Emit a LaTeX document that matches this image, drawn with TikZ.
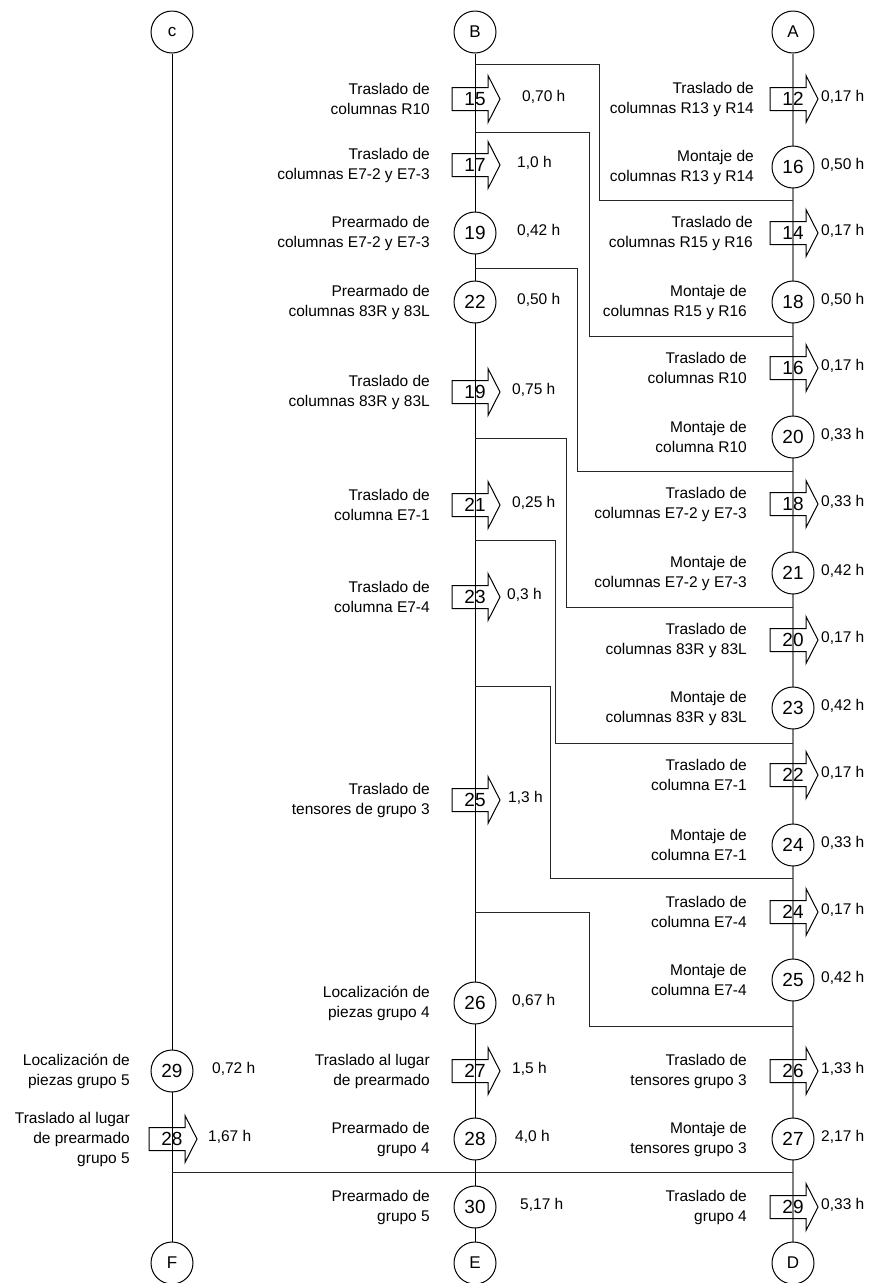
\documentclass[tikz,border=0pt]{standalone}
\usepackage{fontspec}
\setmainfont{Liberation Sans}
\usetikzlibrary{backgrounds}
\tikzset{
  colline/.style={line width=1pt, black},
  collineA/.style={line width=1.3pt, black!50},
  conn/.style={line width=1pt, black!85},
  circ/.style={circle, draw, line width=1pt, fill=white, minimum size=42pt, inner sep=0pt, font=\fontsize{19}{19}\selectfont},
  letter/.style={circ, font=\fontsize{17}{17}\selectfont},
  arrowshape/.style={draw, line width=1pt},
  num/.style={inner sep=0pt, font=\fontsize{19}{19}\selectfont},
  lbl/.style={anchor=east, align=right, inner sep=0pt, font=\fontsize{15.5}{20}\selectfont},
  tm/.style={anchor=west, inner sep=0pt, font=\fontsize{15.5}{20}\selectfont},
}
% #1 name, #2 x, #3 y, #4 number
\newcommand\ArrowAct[4]{%
  \draw[arrowshape] (#2-23,#3-11.5) -- (#2+13,#3-11.5) -- (#2+13,#3-23.5) -- (#2+25,#3)
     -- (#2+13,#3+23.5) -- (#2+13,#3+11.5) -- (#2-23,#3+11.5) -- cycle;
  \node[num] (#1) at (#2,#3) {#4};}
\newcommand\CircAct[4]{\node[circ] (#1) at (#2,#3) {#4};}
\begin{document}
\begin{tikzpicture}[x=1pt,y=-1pt]
\useasboundingbox (0,0) rectangle (879,1283);

% end circles
\node[letter] (tc) at (172,32) {c};
\node[letter] (tb) at (475,32) {B};
\node[letter] (ta) at (793,32) {A};
\node[letter] (bf) at (172,1263) {F};
\node[letter] (be) at (475,1263) {E};
\node[letter] (bd) at (793,1263) {D};

% ---- column B ----
\ArrowAct{b15}{475}{99}{15}
\node[lbl] (b15l) at (430,99) {Traslado de\\columnas R10};
\node[tm] (b15t) at (522,97) {0,70 h};

\ArrowAct{b17}{475}{165}{17}
\node[lbl] (b17l) at (430,165) {Traslado de\\columnas E7-2 y E7-3};
\node[tm] (b17t) at (517,163) {1,0 h};

\CircAct{b19}{475}{233}{19}
\node[lbl] (b19l) at (430,233) {Prearmado de\\columnas E7-2 y E7-3};
\node[tm] (b19t) at (517,231) {0,42 h};

\CircAct{b22}{475}{302}{22}
\node[lbl] (b22l) at (430,302) {Prearmado de\\columnas 83R y 83L};
\node[tm] (b22t) at (517,300) {0,50 h};

\ArrowAct{b19a}{475}{392}{19}
\node[lbl] (b19al) at (430,392) {Traslado de\\columnas 83R y 83L};
\node[tm] (b19at) at (512,390) {0,75 h};

\ArrowAct{b21}{475}{505}{21}
\node[lbl] (b21l) at (430,505) {Traslado de\\columna E7-1};
\node[tm] (b21t) at (512,503) {0,25 h};

\ArrowAct{b23}{475}{597}{23}
\node[lbl] (b23l) at (430,597) {Traslado de\\columna E7-4};
\node[tm] (b23t) at (507,595) {0,3 h};

\ArrowAct{b25}{475}{800}{25}
\node[lbl] (b25l) at (430,800) {Traslado de\\tensores de grupo 3};
\node[tm] (b25t) at (508,798) {1,3 h};

\CircAct{b26}{475}{1003}{26}
\node[lbl] (b26l) at (430,1003) {Localización de\\piezas grupo 4};
\node[tm] (b26t) at (512,1001) {0,67 h};

\ArrowAct{b27}{475}{1071}{27}
\node[lbl] (b27l) at (430,1071) {Traslado al lugar\\de prearmado};
\node[tm] (b27t) at (512,1069) {1,5 h};

\CircAct{b28}{475}{1139}{28}
\node[lbl] (b28l) at (430,1139) {Prearmado de\\grupo 4};
\node[tm] (b28t) at (515,1137) {4,0 h};

\CircAct{b30}{475}{1207}{30}
\node[lbl] (b30l) at (430,1207) {Prearmado de\\grupo 5};
\node[tm] (b30t) at (520,1205) {5,17 h};

% ---- column A ----
\ArrowAct{a12}{793}{99}{12}
\node[lbl] (a12l) at (754,99) {Traslado de\\columnas R13 y R14};
\node[tm] (a12t) at (821,97) {0,17 h};

\CircAct{a16}{793}{167}{16}
\node[lbl] (a16l) at (754,167) {Montaje de\\columnas R13 y R14};
\node[tm] (a16t) at (821,165) {0,50 h};

\ArrowAct{a14}{793}{233}{14}
\node[lbl] (a14l) at (753,233) {Traslado de\\columnas R15 y R16};
\node[tm] (a14t) at (821,231) {0,17 h};

\CircAct{a18}{793}{302}{18}
\node[lbl] (a18l) at (747,302) {Montaje de\\columnas R15 y R16};
\node[tm] (a18t) at (821,300) {0,50 h};

\ArrowAct{a16b}{793}{368}{16}
\node[lbl] (a16bl) at (747,368) {Traslado de\\columnas R10};
\node[tm] (a16bt) at (821,366) {0,17 h};

\CircAct{a20}{793}{437}{20}
\node[lbl] (a20l) at (747,437) {Montaje de\\columna R10};
\node[tm] (a20t) at (821,435) {0,33 h};

\ArrowAct{a18b}{793}{504}{18}
\node[lbl] (a18bl) at (747,504) {Traslado de\\columnas E7-2 y E7-3};
\node[tm] (a18bt) at (821,502) {0,33 h};

\CircAct{a21}{793}{573}{21}
\node[lbl] (a21l) at (747,573) {Montaje de\\columnas E7-2 y E7-3};
\node[tm] (a21t) at (821,571) {0,42 h};

\ArrowAct{a20b}{793}{640}{20}
\node[lbl] (a20bl) at (747,640) {Traslado de\\columnas 83R y 83L};
\node[tm] (a20bt) at (821,638) {0,17 h};

\CircAct{a23}{793}{708}{23}
\node[lbl] (a23l) at (747,708) {Montaje de\\columnas 83R y 83L};
\node[tm] (a23t) at (821,706) {0,42 h};

\ArrowAct{a22}{793}{775}{22}
\node[lbl] (a22l) at (747,775) {Traslado de\\columna E7-1};
\node[tm] (a22t) at (821,773) {0,17 h};

\CircAct{a24}{793}{845}{24}
\node[lbl] (a24l) at (747,845) {Montaje de\\columna E7-1};
\node[tm] (a24t) at (821,843) {0,33 h};

\ArrowAct{a24b}{793}{912}{24}
\node[lbl] (a24bl) at (747,912) {Traslado de\\columna E7-4};
\node[tm] (a24bt) at (821,910) {0,17 h};

\CircAct{a25}{793}{980}{25}
\node[lbl] (a25l) at (747,980) {Montaje de\\columna E7-4};
\node[tm] (a25t) at (821,978) {0,42 h};

\ArrowAct{a26}{793}{1071}{26}
\node[lbl] (a26l) at (747,1071) {Traslado de\\tensores grupo 3};
\node[tm] (a26t) at (821,1069) {1,33 h};

\CircAct{a27}{793}{1139}{27}
\node[lbl] (a27l) at (747,1139) {Montaje de\\tensores grupo 3};
\node[tm] (a27t) at (821,1137) {2,17 h};

\ArrowAct{a29}{793}{1207}{29}
\node[lbl] (a29l) at (747,1207) {Traslado de\\grupo 4};
\node[tm] (a29t) at (821,1205) {0,33 h};

% ---- column C ----
\CircAct{c29}{172}{1071}{29}
\node[lbl] (c29l) at (130,1071) {Localización de\\piezas grupo 5};
\node[tm] (c29t) at (212,1069) {0,72 h};

\ArrowAct{c28}{172}{1139}{28}
\node[lbl] (c28l) at (130,1139) {Traslado al lugar\\de prearmado\\grupo 5};
\node[tm] (c28t) at (208,1137) {1,67 h};

% ---- connector points ----
\coordinate (k1a) at (475,64);   \coordinate (k1b) at (599,200);  \coordinate (k1c) at (793,200);
\coordinate (k2a) at (475,132);  \coordinate (k2b) at (589,336);  \coordinate (k2c) at (793,336);
\coordinate (k3a) at (475,268);  \coordinate (k3b) at (577,471);  \coordinate (k3c) at (793,471);
\coordinate (k4a) at (475,438);  \coordinate (k4b) at (566,607);  \coordinate (k4c) at (793,607);
\coordinate (k5a) at (475,540);  \coordinate (k5b) at (555,743);  \coordinate (k5c) at (793,743);
\coordinate (k6a) at (475,686);  \coordinate (k6b) at (550,878);  \coordinate (k6c) at (793,878);
\coordinate (k7a) at (475,912);  \coordinate (k7b) at (589,1026); \coordinate (k7c) at (793,1026);
\coordinate (k8a) at (172,1172); \coordinate (k8c) at (793,1172);

\begin{pgfonlayer}{background}
  \draw[colline] (tc) -- (bf);
  \draw[colline] (tb) -- (be);
  \draw[collineA] (ta) -- (bd);
  \draw[conn] (k1a) -| (k1b) -- (k1c);
  \draw[conn] (k2a) -| (k2b) -- (k2c);
  \draw[conn] (k3a) -| (k3b) -- (k3c);
  \draw[conn] (k4a) -| (k4b) -- (k4c);
  \draw[conn] (k5a) -| (k5b) -- (k5c);
  \draw[conn] (k6a) -| (k6b) -- (k6c);
  \draw[conn] (k7a) -| (k7b) -- (k7c);
  \draw[conn] (k8a) -- (k8c);
\end{pgfonlayer}
\end{tikzpicture}
\end{document}
